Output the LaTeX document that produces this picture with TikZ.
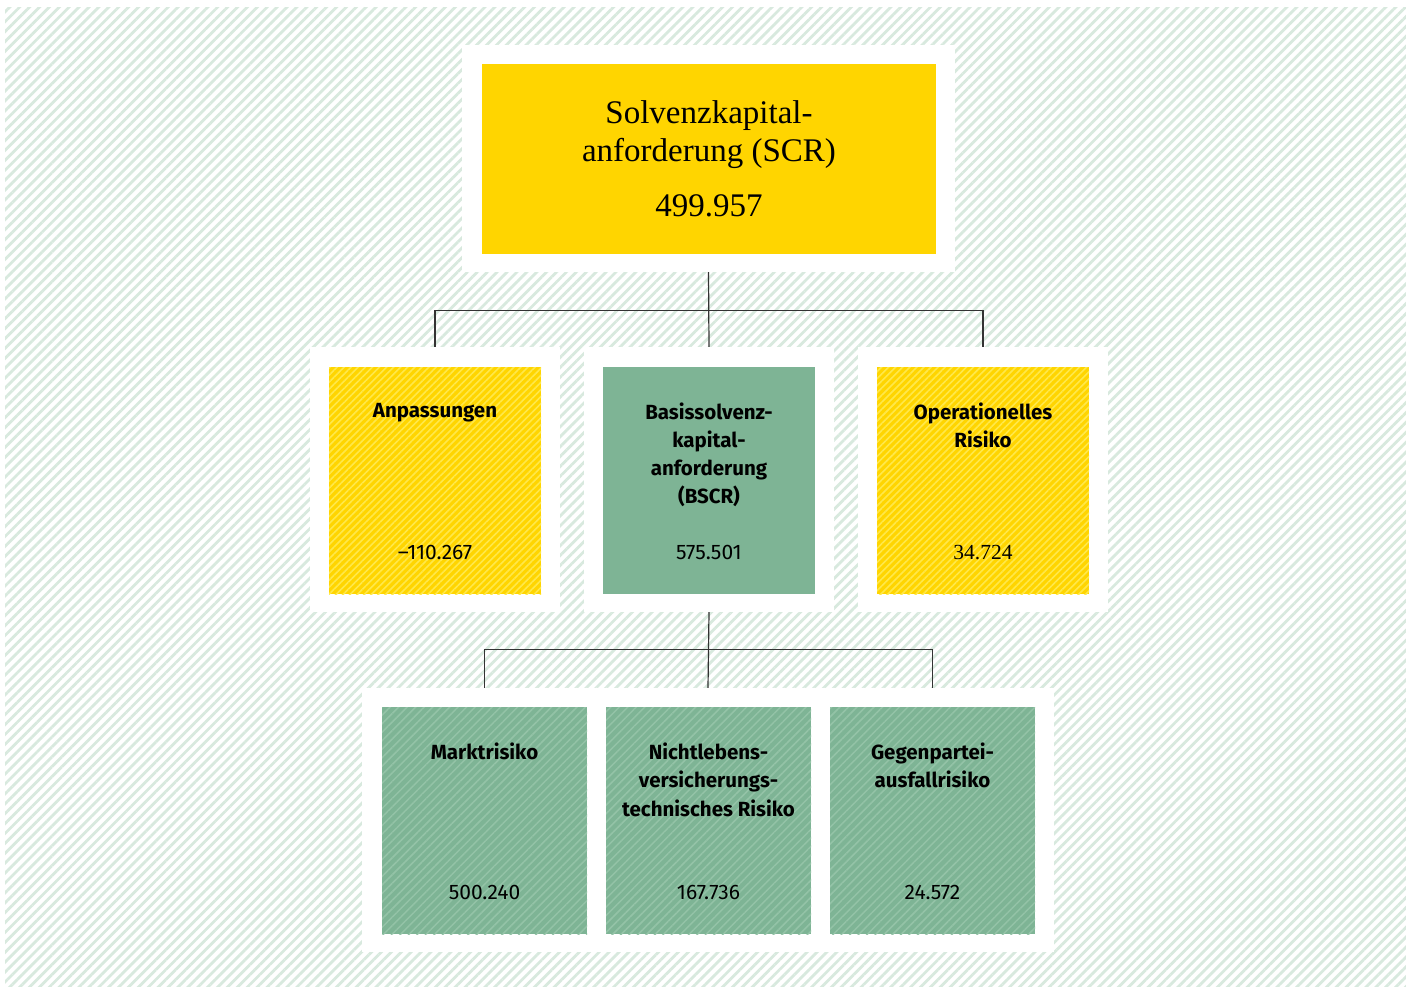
\documentclass[tikz,border=0pt]{standalone}
\usepackage{fontspec}
\setmainfont{Liberation Serif}
\setsansfont{Fira Sans}
\usetikzlibrary{patterns.meta}

\definecolor{bghatch}{HTML}{D8E9DE}
\definecolor{sunyellow}{HTML}{FFD500}
\definecolor{sunstripe}{HTML}{FFE84A}
\definecolor{sage}{HTML}{7EB495}
\definecolor{sagestripe}{HTML}{94C3A7}
\definecolor{linegray}{HTML}{333333}

\begin{document}
\begin{tikzpicture}[x=1pt, y=-1pt]
        \tikzstyle{frame}=[fill=white, inner sep=0pt, minimum width=250pt, minimum height=265pt]
        \tikzstyle{scrbox}=[fill=sunyellow, inner sep=0pt, minimum width=454pt, minimum height=190pt]
        \tikzstyle{ybox}=[fill=sunyellow, inner sep=0pt, minimum width=212pt, minimum height=227pt,
            postaction={pattern={Lines[angle=45, distance=5pt, line width=1.6pt]}, pattern color=sunstripe}]
        \tikzstyle{gbox}=[fill=sage, inner sep=0pt, minimum width=212pt, minimum height=227pt]
        \tikzstyle{gstripe}=[gbox, minimum width=205pt,
            postaction={pattern={Lines[angle=45, distance=6pt, line width=1.5pt]}, pattern color=sagestripe}]
        \tikzstyle{title}=[anchor=north, align=center, inner sep=0pt, font=\sffamily\bfseries\fontsize{20.5}{28.3}\selectfont]
        \tikzstyle{value}=[anchor=base, inner sep=0pt, font=\sffamily\fontsize{21}{28}\selectfont]
        \tikzstyle{link}=[draw=linegray, line width=1.2pt]

        \useasboundingbox (0,0) rectangle (1406,987);
        \path[pattern={Lines[angle=45, distance=7pt, line width=2.8pt]}, pattern color=bghatch] (5,8) rectangle (1406,987);

        % top
        \node[frame, minimum width=493pt, minimum height=227pt] (scrf) at (708.5,158.5) {};
        \node[scrbox] (scr) at (709,159) {};
        \node[title, font=\rmfamily\fontsize{33}{38}\selectfont] at ([yshift=-37pt]scr.north) {Solvenzkapital-\\anforderung (SCR)};
        \node[value, font=\rmfamily\fontsize{33}{38}\selectfont] at ([yshift=38pt]scr.south) {499.957};

        % middle row
        \node[frame] (anpf) at (435,479.5) {};
        \node[frame] (bscrf) at (709,479.5) {};
        \node[frame] (oprf) at (983,479.5) {};
        \node[ybox] (anp) at (435,480.5) {};
        \node[gbox] (bscr) at (709,480.5) {};
        \node[ybox] (opr) at (983,480.5) {};

        \node[title] at ([yshift=-36pt]anp.north) {Anpassungen};
        \node[title, font=\sffamily\bfseries\fontsize{20.5}{28}\selectfont] at ([yshift=-36pt]bscr.north) {Basissolvenz-\\kapital-\\anforderung\\(BSCR)};
        \node[title] at ([yshift=-36pt]opr.north) {Operationelles\\Risiko};
        \node[value] at ([yshift=35pt]anp.south) {–110.267};
        \node[value] at ([yshift=35pt]bscr.south) {575.501};
        \node[value, font=\rmfamily\fontsize{21.5}{28}\selectfont] at ([yshift=35pt]opr.south) {34.724};

        % bottom row
        \node[frame, minimum width=692pt, minimum height=264pt] (botf) at (708,820) {};
        \node[gstripe] (markt) at (484.5,820.5) {};
        \node[gstripe] (nleben) at (708.5,820.5) {};
        \node[gstripe] (gegen) at (932.5,820.5) {};

        \node[title] at ([yshift=-36pt]markt.north) {Marktrisiko};
        \node[title] at ([yshift=-36pt]nleben.north) {Nichtlebens-\\versicherungs-\\technisches Risiko};
        \node[title] at ([yshift=-36pt]gegen.north) {Gegenpartei-\\ausfallrisiko};
        \node[value] at ([yshift=35pt]markt.south) {500.240};
        \node[value] at ([yshift=35pt]nleben.south) {167.736};
        \node[value] at ([yshift=35pt]gegen.south) {24.572};

        \draw[link] (scrf.south) -- (bscrf.north);
        \draw[link] (anpf.north) -- ++(0,-36) -| (oprf.north);
        \draw[link] (bscrf.south) -- (botf.north);
        \draw[link] (markt |- botf.north) -- ++(0,-38) -| (gegen |- botf.north);
    \end{tikzpicture}
\end{document}
